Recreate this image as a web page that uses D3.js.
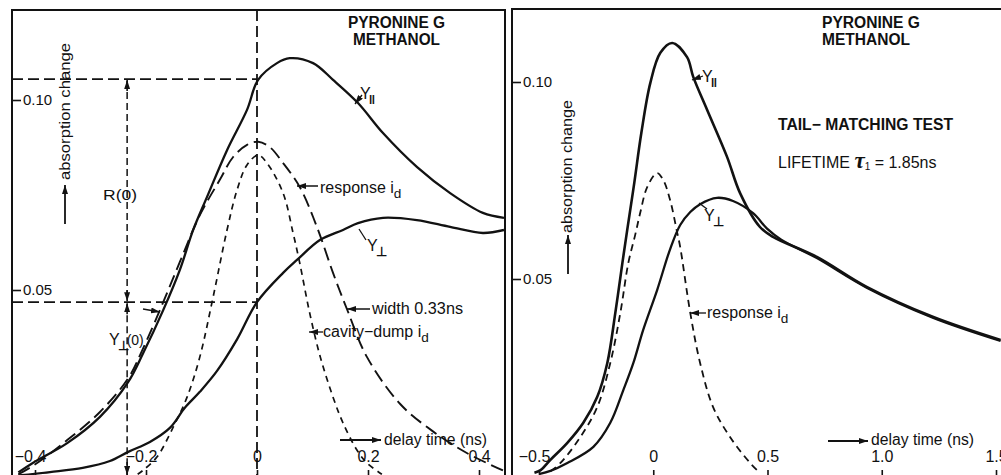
<!DOCTYPE html>
<html>
<head>
<meta charset="utf-8">
<script src="https://cdn.jsdelivr.net/npm/d3@7/dist/d3.min.js"></script>
<style>
	body { margin: 0; background: #fff; }
	svg { display: block; }
	text { font-family: "Liberation Sans", Arial, sans-serif; fill: #111; }
</style>
</head>
<body>
<svg id="chart" width="1001" height="475"></svg>
<script>
// ---- data: [delay time (ns), absorption change] ----

// left panel
var leftParallel = [[-0.43,0.0020],[-0.404,0.0045],[-0.342,0.0097],[-0.283,0.0166],[-0.232,0.0258],[-0.205,0.0334],[-0.169,0.0447],[-0.139,0.0553],[-0.115,0.0658],[-0.090,0.0745],[-0.054,0.0868],[-0.018,0.0974],[0.002,0.1053],[0.036,0.1097],[0.059,0.1110],[0.101,0.1097],[0.137,0.1053],[0.182,0.0992],[0.227,0.0913],[0.288,0.0824],[0.348,0.0755],[0.407,0.0703],[0.445,0.0690]];
var leftPerp = [[-0.43,0.0012],[-0.373,0.0021],[-0.314,0.0032],[-0.265,0.0050],[-0.232,0.0074],[-0.193,0.0100],[-0.157,0.0137],[-0.130,0.0190],[-0.103,0.0232],[-0.072,0.0287],[-0.036,0.0370],[0,0.0468],[0.047,0.0545],[0.072,0.0579],[0.114,0.0632],[0.155,0.0658],[0.182,0.0676],[0.227,0.0690],[0.288,0.0684],[0.348,0.0666],[0.407,0.0650],[0.445,0.0658]];
var leftResponse = [[-0.43,0.0015],[-0.404,0.0037],[-0.342,0.0105],[-0.283,0.0179],[-0.232,0.0268],[-0.205,0.0347],[-0.169,0.0468],[-0.139,0.0574],[-0.103,0.0697],[-0.067,0.0790],[-0.043,0.0850],[-0.018,0.0882],[0.002,0.0890],[0.023,0.0876],[0.047,0.0834],[0.077,0.0771],[0.108,0.0666],[0.137,0.0545],[0.162,0.0450],[0.198,0.0324],[0.258,0.0200],[0.317,0.0128],[0.378,0.0071],[0.445,0.0024]];
var leftCavityDump = [[-0.215,0.0015],[-0.205,0.0026],[-0.180,0.0061],[-0.151,0.0139],[-0.126,0.0218],[-0.103,0.0324],[-0.079,0.0482],[-0.054,0.0658],[-0.036,0.0763],[-0.018,0.0829],[0.002,0.0855],[0.018,0.0834],[0.047,0.0755],[0.065,0.0650],[0.077,0.0571],[0.095,0.0439],[0.114,0.0324],[0.137,0.0218],[0.155,0.0150],[0.180,0.0079],[0.198,0.0045],[0.225,0.0015]];

// right panel
var rightParallel = [[-0.52,0.0008],[-0.493,0.0015],[-0.450,0.0041],[-0.376,0.0084],[-0.306,0.0135],[-0.245,0.0201],[-0.201,0.0287],[-0.166,0.0414],[-0.135,0.0541],[-0.114,0.0624],[-0.083,0.0744],[-0.052,0.0871],[-0.013,0.0997],[0.031,0.1074],[0.083,0.1099],[0.148,0.1063],[0.175,0.1013],[0.236,0.0929],[0.323,0.0810],[0.380,0.0718],[0.467,0.0632],[0.524,0.0607],[0.716,0.0556],[0.934,0.0480],[1.223,0.0404],[1.520,0.0345]];
var rightPerp = [[-0.50,0.0005],[-0.450,0.0013],[-0.376,0.0033],[-0.262,0.0074],[-0.188,0.0135],[-0.131,0.0218],[-0.087,0.0287],[-0.044,0.0371],[0.017,0.0472],[0.074,0.0576],[0.118,0.0637],[0.162,0.0670],[0.205,0.0690],[0.279,0.0706],[0.349,0.0698],[0.437,0.0667],[0.498,0.0628],[0.560,0.0600],[0.716,0.0553],[0.934,0.0478],[1.223,0.0402],[1.520,0.0343]];
var rightResponse = [[-0.45,0.0012],[-0.406,0.0033],[-0.319,0.0099],[-0.245,0.0175],[-0.188,0.0287],[-0.144,0.0414],[-0.109,0.0541],[-0.079,0.0612],[-0.057,0.0668],[-0.026,0.0734],[0.017,0.0769],[0.044,0.0751],[0.074,0.0700],[0.105,0.0617],[0.118,0.0581],[0.162,0.0414],[0.205,0.0287],[0.262,0.0175],[0.336,0.0099],[0.424,0.0033],[0.467,0.0008]];

// ticks
var leftTimeTicks = [-0.4, -0.2, 0, 0.2, 0.4];
var rightTimeTicks = [-0.5, 0, 0.5, 1.0, 1.5];
var absorptionTicks = [0.05, 0.10];

// construction lines in the left panel
var rParallelZero = 0.1055;
var rPerpZero = 0.0468;
var markerTime = -0.234;

var svg = d3.select('#chart');
var ink = '#121212';

var defs = svg.append('defs');
defs.append('marker')
	.attr('id', 'head')
	.attr('viewBox', '0 0 10 10')
	.attr('refX', 10)
	.attr('refY', 5)
	.attr('markerWidth', 9)
	.attr('markerHeight', 6)
	.attr('markerUnits', 'userSpaceOnUse')
	.attr('preserveAspectRatio', 'none')
	.attr('orient', 'auto')
	.append('path')
	.attr('d', 'M0,0L10,5L0,10z')
	.attr('fill', ink);

defs.append('clipPath').attr('id', 'clip-left')
	.append('rect').attr('x', 13).attr('y', 11).attr('width', 491).attr('height', 470);
defs.append('clipPath').attr('id', 'clip-right')
	.append('rect').attr('x', 513).attr('y', 10).attr('width', 500).attr('height', 470);

// scales
var xLeft = d3.scaleLinear().domain([-0.4, 0.4]).range([35, 479]);
var yLeft = d3.scaleLinear().domain([0, 0.1]).range([480, 100]);
var xRight = d3.scaleLinear().domain([-0.5, 1.5]).range([539, 996]);
var yRight = d3.scaleLinear().domain([0, 0.1]).range([476, 82]);

// frames
svg.append('path')
	.attr('d', 'M12,490V10H505V490')
	.attr('fill', 'none').attr('stroke', ink).attr('stroke-width', 2);
svg.append('path')
	.attr('d', 'M512,490V9H1010')
	.attr('fill', 'none').attr('stroke', ink).attr('stroke-width', 2);

function drawAxes(x, y, left, timeTicks, baseY) {
	var xAxis = d3.axisTop(x)
		.tickValues(timeTicks)
		.tickSize(10)
		.tickPadding(8)
		.tickFormat(function(d) { return d === 0 ? '0' : d3.format('.1f')(d).replace('-', '\u2212'); });

	var gx = svg.append('g')
		.attr('transform', 'translate(0,' + baseY + ')')
		.call(xAxis);
	gx.select('.domain').remove();
	gx.selectAll('line').attr('stroke', ink).attr('stroke-width', 1.6);
	gx.selectAll('text')
		.attr('font-size', 16)
		.attr('fill', ink)
		.attr('dx', function(d) { return d < 0 ? -5 : 0; });

	var yAxis = d3.axisRight(y)
		.tickValues(absorptionTicks)
		.tickSize(9)
		.tickPadding(2)
		.tickFormat(d3.format('.2f'));

	var gy = svg.append('g')
		.attr('transform', 'translate(' + left + ',0)')
		.call(yAxis);
	gy.select('.domain').remove();
	gy.selectAll('line').attr('stroke', ink).attr('stroke-width', 1.6);
	gy.selectAll('text').attr('font-size', 15).attr('fill', ink);
}

drawAxes(xLeft, yLeft, 12, leftTimeTicks, 480);
drawAxes(xRight, yRight, 512, rightTimeTicks, 480);

function curve(x, y) {
	return d3.line()
		.x(function(d) { return x(d[0]); })
		.y(function(d) { return y(d[1]); })
		.curve(d3.curveCatmullRom.alpha(0.5));
}

var left = svg.append('g').attr('clip-path', 'url(#clip-left)');
var right = svg.append('g').attr('clip-path', 'url(#clip-right)');

// construction lines
left.append('line')
	.attr('x1', 12).attr('x2', xLeft(0))
	.attr('y1', yLeft(rParallelZero)).attr('y2', yLeft(rParallelZero))
	.attr('stroke', ink).attr('stroke-width', 1.8).attr('stroke-dasharray', '11,5');
left.append('line')
	.attr('x1', 12).attr('x2', xLeft(0))
	.attr('y1', yLeft(rPerpZero)).attr('y2', yLeft(rPerpZero))
	.attr('stroke', ink).attr('stroke-width', 1.8).attr('stroke-dasharray', '11,5');
left.append('line')
	.attr('x1', xLeft(0)).attr('x2', xLeft(0))
	.attr('y1', 10).attr('y2', 480)
	.attr('stroke', ink).attr('stroke-width', 1.8).attr('stroke-dasharray', '11,5');

// R(0) and Y_perp(0) double arrows
var mx = xLeft(markerTime);
left.append('line')
	.attr('x1', mx).attr('x2', mx)
	.attr('y1', yLeft(rParallelZero) + 2).attr('y2', yLeft(rPerpZero) - 2)
	.attr('stroke', ink).attr('stroke-width', 1.5).attr('stroke-dasharray', '7,4');
left.append('line')
	.attr('x1', mx).attr('x2', mx)
	.attr('y1', yLeft(rPerpZero) + 2).attr('y2', 476)
	.attr('stroke', ink).attr('stroke-width', 1.5).attr('stroke-dasharray', '7,4');

function arrow(g, x1, y1, x2, y2, w) {
	g.append('line')
		.attr('x1', x1).attr('y1', y1).attr('x2', x2).attr('y2', y2)
		.attr('stroke', ink).attr('stroke-width', w || 1.6)
		.attr('marker-end', 'url(#head)');
}

arrow(left, mx, yLeft(rParallelZero) + 12, mx, yLeft(rParallelZero) + 1);
arrow(left, mx, yLeft(rPerpZero) - 12, mx, yLeft(rPerpZero) - 1);
arrow(left, mx, yLeft(rPerpZero) + 12, mx, yLeft(rPerpZero) + 1);
arrow(left, mx, 462, mx, 475);

// curves
var lineL = curve(xLeft, yLeft);
var lineR = curve(xRight, yRight);

left.append('path').datum(leftCavityDump)
	.attr('d', lineL).attr('fill', 'none').attr('stroke', ink)
	.attr('stroke-width', 1.7).attr('stroke-dasharray', '6,5');
left.append('path').datum(leftResponse)
	.attr('d', lineL).attr('fill', 'none').attr('stroke', ink)
	.attr('stroke-width', 1.9).attr('stroke-dasharray', '13,6');
left.append('path').datum(leftPerp)
	.attr('d', lineL).attr('fill', 'none').attr('stroke', ink).attr('stroke-width', 2.3);
left.append('path').datum(leftParallel)
	.attr('d', lineL).attr('fill', 'none').attr('stroke', ink).attr('stroke-width', 2.3);

right.append('path').datum(rightResponse)
	.attr('d', lineR).attr('fill', 'none').attr('stroke', ink)
	.attr('stroke-width', 1.8).attr('stroke-dasharray', '7,5');
right.append('path').datum(rightPerp)
	.attr('d', lineR).attr('fill', 'none').attr('stroke', ink).attr('stroke-width', 2.3);
right.append('path').datum(rightParallel)
	.attr('d', lineR).attr('fill', 'none').attr('stroke', ink).attr('stroke-width', 2.6);

// text helpers
function label(x, y, str, size, weight, len) {
	var t = svg.append('text')
		.attr('x', x).attr('y', y)
		.attr('font-size', size)
		.attr('font-weight', weight || 'normal')
		.text(str);
	if(len) {
		t.attr('textLength', len).attr('lengthAdjust', 'spacingAndGlyphs');
	}
	return t;
}

function subLabel(x, y, main, sub, size) {
	var t = svg.append('text')
		.attr('x', x).attr('y', y)
		.attr('font-size', size);
	t.append('tspan').text(main);
	t.append('tspan').attr('font-size', size * 0.85).attr('dy', 5).text(sub);
	return t;
}

function yLabel(x, y, sym, tail) {
	var t = svg.append('text')
		.attr('x', x).attr('y', y)
		.attr('font-size', 16);
	t.append('tspan').text('Y');
	t.append('tspan').attr('dx', -2).attr('dy', 5).attr('font-size', 13).attr('font-weight', 'bold').text(sym);
	if(tail) {
		t.append('tspan').attr('dx', -2).attr('dy', -5).attr('font-size', 14).text(tail);
	}
	return t;
}

function axisTitle(x, y, len) {
	svg.append('text')
		.attr('transform', 'translate(' + x + ',' + y + ') rotate(-90)')
		.attr('font-size', 15)
		.attr('textLength', len)
		.attr('lengthAdjust', 'spacingAndGlyphs')
		.text('absorption change');
}

// left panel labels
label(348, 28, 'PYRONINE G', 16, 'bold', 97);
label(353, 45, 'METHANOL', 16, 'bold', 87);
axisTitle(70, 180, 137);
arrow(svg, 65, 224, 65, 185, 1.8);
label(103, 200, 'R(0)', 15, 'normal', 34);
yLabel(360, 99, '\u2016');
arrow(svg, 362, 95, 355, 104, 1.3);
subLabel(320, 193, 'response i', 'd', 16);
arrow(svg, 318, 186, 297, 186, 1.5);
label(372, 314, 'width 0.33ns', 16, 'normal', 91);
arrow(svg, 370, 309, 347, 309, 1.5);
subLabel(323, 337, 'cavity\u2212dump i', 'd', 16);
arrow(svg, 323, 332, 309, 332, 1.3);
yLabel(367, 251, '\u22a5');
svg.append('line').attr('x1', 366).attr('y1', 240).attr('x2', 359).attr('y2', 229)
	.attr('stroke', ink).attr('stroke-width', 1.3);
yLabel(109, 345, '\u22a5', '(0)');
arrow(svg, 143, 309, 160, 312, 1.3);
arrow(svg, 340, 440, 381, 440, 2);
label(384, 445, 'delay time (ns)', 16, 'normal', 103);

// right panel labels
label(822, 28, 'PYRONINE G', 16, 'bold', 98);
label(822, 45, 'METHANOL', 16, 'bold', 88);
label(778, 130, 'TAIL\u2212 MATCHING TEST', 16, 'bold', 175);
var life = svg.append('text').attr('x', 778).attr('y', 168).attr('font-size', 16);
life.append('tspan').text('LIFETIME ');
life.append('tspan').attr('font-family', '"Liberation Serif", serif').attr('font-style', 'italic')
	.attr('font-weight', 'bold').attr('font-size', 23).text('\u03c4');
life.append('tspan').attr('font-size', 10).attr('dy', 2).text('1');
life.append('tspan').attr('dy', -2).text(' = 1.85ns');
axisTitle(572, 233, 133);
arrow(svg, 568, 274, 568, 235, 1.8);
yLabel(702, 82, '\u2016');
arrow(svg, 703, 76, 692, 80, 1.3);
yLabel(704, 221, '\u22a5');
svg.append('line').attr('x1', 707).attr('y1', 209).attr('x2', 699).attr('y2', 203)
	.attr('stroke', ink).attr('stroke-width', 1.3);
subLabel(707, 318, 'response i', 'd', 16);
arrow(svg, 706, 313, 690, 313, 1.3);
arrow(svg, 828, 441, 868, 441, 2);
label(871, 445, 'delay time (ns)', 16, 'normal', 103);
</script>
</body>
</html>
